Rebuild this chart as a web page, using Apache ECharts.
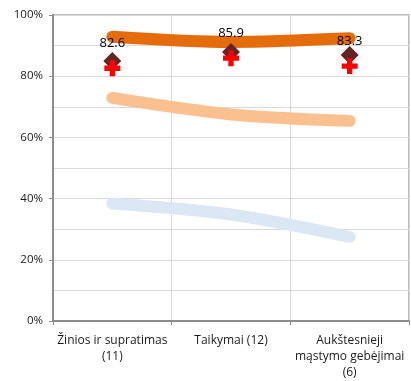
<!DOCTYPE html>
<html>
<head>
<meta charset="utf-8">
<script src="https://cdn.jsdelivr.net/npm/echarts@6/dist/echarts.min.js"></script>
<style>
  html, body { margin: 0; padding: 0; background: #fff; }
  #chart { width: 411px; height: 381px; }
</style>
</head>
<body>
<div id="chart"></div>
<script>
// Categories and series values (percent)
const categories = ['Žinios ir supratimas\n(11)', 'Taikymai (12)', 'Aukštesnieji\nmąstymo gebėjimai\n(6)'];
const topBand = [92.9, 91.2, 92.4];
const upperBand = [72.9, 67.5, 65.4];
const lowerBand = [38.4, 34.8, 27.5];
const diamondValues = [85.0, 87.9, 86.9];
const crossValues = [82.6, 85.9, 83.3];
const yTicks = [0, 20, 40, 60, 80, 100];

// Thick plus sign used for the labelled series
const crossPath = 'path://M3,0H6V3H9V6H6V9H3V6H0V3H3Z';

const chart = echarts.init(document.getElementById('chart'));
chart.setOption({
  animation: false,
  grid: {
    left: 53, right: 2, top: 15, bottom: 60,
    show: true, borderColor: '#a6a6a6', borderWidth: 1.5, backgroundColor: 'transparent'
  },
  xAxis: {
    type: 'category',
    data: categories,
    boundaryGap: true,
    axisLine: { lineStyle: { color: '#8c8c8c', width: 2 } },
    axisTick: { show: true, length: 4, lineStyle: { color: '#8c8c8c' } },
    axisLabel: {
      color: '#1a1a1a', fontFamily: 'Open Sans', fontSize: 12,
      lineHeight: 16, interval: 0, margin: 12
    },
    splitLine: { show: true, lineStyle: { color: '#d9d9d9', width: 1 } }
  },
  yAxis: {
    type: 'value',
    min: yTicks[0], max: yTicks[yTicks.length - 1], interval: 20,
    axisLine: { show: true, lineStyle: { color: '#8c8c8c', width: 2 } },
    axisTick: { show: true, length: 4, lineStyle: { color: '#8c8c8c' } },
    axisLabel: {
      color: '#1a1a1a', fontFamily: 'Open Sans', fontSize: 11.5, margin: 10,
      formatter: v => v + '%'
    },
    splitLine: { show: true, lineStyle: { color: '#d9d9d9', width: 1 } },
    minorTick: { show: false, splitNumber: 2 },
    minorSplitLine: { show: true, lineStyle: { color: '#d9d9d9', width: 1 } }
  },
  series: [
    {
      type: 'line', data: lowerBand, smooth: 0.3, symbol: 'none',
      lineStyle: { color: '#dce7f5', width: 12, cap: 'round', join: 'round' }, z: 2
    },
    {
      type: 'line', data: upperBand, smooth: 0.3, symbol: 'none',
      lineStyle: { color: '#fac08f', width: 12, cap: 'round', join: 'round' }, z: 2
    },
    {
      type: 'line', data: topBand, smooth: 0.3, symbol: 'none',
      lineStyle: { color: '#e46c0a', width: 12, cap: 'round', join: 'round' }, z: 2
    },
    {
      type: 'scatter', data: diamondValues, symbol: 'diamond', symbolSize: [18, 18],
      itemStyle: { color: '#632523', opacity: 1 }, z: 3
    },
    {
      type: 'scatter', data: crossValues, symbol: crossPath, symbolSize: [16, 16],
      itemStyle: { color: '#ff0000', opacity: 1 }, z: 4,
      label: {
        show: true, position: 'top', distance: 10,
        color: '#000', fontFamily: 'Open Sans', fontSize: 13,
        formatter: p => p.value.toFixed(1)
      }
    }
  ]
});
</script>
</body>
</html>
